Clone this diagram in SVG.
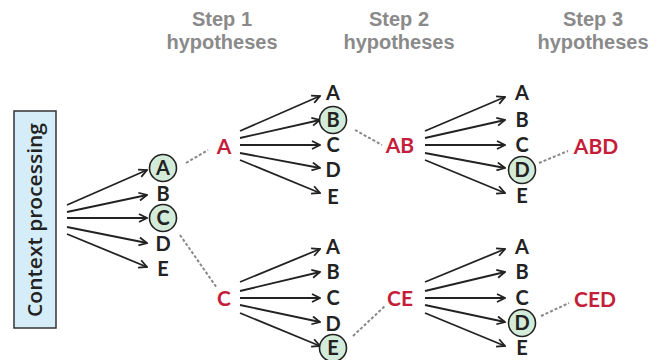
<svg xmlns="http://www.w3.org/2000/svg" width="667" height="360" viewBox="0 0 667 360">
<style>
.hdr{font-family:"Liberation Sans",Arial,sans-serif;font-weight:700;font-size:20px;fill:#8a8a8a;text-anchor:middle}
.tok{font-family:Lato,"Open Sans",sans-serif;font-weight:700;font-size:20px;fill:#222;text-anchor:middle}
.ctx{font-family:"Open Sans",Lato,sans-serif;font-weight:600;font-size:19.5px;fill:#222;text-anchor:middle}
.hyp{font-family:Lato,"Open Sans",sans-serif;font-weight:700;font-size:21px;fill:#c41e3a;text-anchor:middle}
.sel{fill:#d3ebd9;stroke:#222;stroke-width:1.6}
.arr{stroke:#222;stroke-width:1.8;fill:none;marker-end:url(#ah)}
.dash{stroke:#888;stroke-width:2;stroke-dasharray:3 2;fill:none}
</style>
<defs>
<marker id="ah" viewBox="0 0 10 10" refX="9" refY="5" markerWidth="10" markerHeight="10" markerUnits="userSpaceOnUse" orient="auto">
<path d="M1,1 L9,5 L1,9" fill="none" stroke="#222" stroke-width="1.8"/>
</marker>
</defs>
<g id="headers">
<text class="hdr" x="222" y="26">Step 1</text><text class="hdr" x="222" y="49">hypotheses</text>
<text class="hdr" x="399" y="26">Step 2</text><text class="hdr" x="399" y="49">hypotheses</text>
<text class="hdr" x="593" y="26">Step 3</text><text class="hdr" x="593" y="49">hypotheses</text>
</g>
<g id="context">
<rect x="14" y="111" width="42" height="217" fill="#d5edf8" stroke="#333" stroke-width="1.5"/>
<text class="ctx" transform="translate(42,220) rotate(-90)" x="0" y="0" textLength="194" lengthAdjust="spacingAndGlyphs">Context processing</text>
</g>
<g id="connectors">
<line class="arr" x1="67" y1="205" x2="147" y2="170"/>
<line class="arr" x1="67" y1="212" x2="147" y2="195"/>
<line class="arr" x1="67" y1="218" x2="147" y2="218"/>
<line class="arr" x1="67" y1="227" x2="147" y2="243"/>
<line class="arr" x1="67" y1="234" x2="147" y2="267"/>
<line class="arr" x1="240" y1="131" x2="320" y2="96"/>
<line class="arr" x1="240" y1="138" x2="320" y2="120"/>
<line class="arr" x1="240" y1="145" x2="320" y2="145"/>
<line class="arr" x1="240" y1="153" x2="320" y2="168"/>
<line class="arr" x1="240" y1="160" x2="320" y2="193"/>
<line class="arr" x1="425" y1="131" x2="505" y2="97"/>
<line class="arr" x1="425" y1="138" x2="505" y2="120"/>
<line class="arr" x1="425" y1="145" x2="505" y2="145"/>
<line class="arr" x1="425" y1="153" x2="505" y2="168"/>
<line class="arr" x1="425" y1="160" x2="505" y2="193"/>
<line class="arr" x1="240" y1="282" x2="320" y2="249"/>
<line class="arr" x1="240" y1="291" x2="320" y2="272"/>
<line class="arr" x1="240" y1="298" x2="320" y2="298"/>
<line class="arr" x1="240" y1="305" x2="320" y2="322"/>
<line class="arr" x1="240" y1="313" x2="320" y2="346"/>
<line class="arr" x1="425" y1="282" x2="505" y2="249"/>
<line class="arr" x1="425" y1="291" x2="505" y2="272"/>
<line class="arr" x1="425" y1="298" x2="505" y2="298"/>
<line class="arr" x1="425" y1="305" x2="505" y2="322"/>
<line class="arr" x1="425" y1="313" x2="505" y2="346"/>
<line class="dash" x1="186" y1="163" x2="208" y2="150"/>
<line class="dash" x1="180" y1="235" x2="217" y2="288"/>
<line class="dash" x1="355" y1="130" x2="382" y2="145"/>
<line class="dash" x1="353" y1="336" x2="385" y2="306"/>
<line class="dash" x1="539" y1="163" x2="568" y2="151"/>
<line class="dash" x1="541" y1="316" x2="569" y2="303"/>
</g>
<g id="s1-A"><circle class="sel" cx="163" cy="168" r="13.5"/><text class="tok" x="163" y="175">A</text></g>
<g id="s1-B"><text class="tok" x="163" y="201">B</text></g>
<g id="s1-C"><circle class="sel" cx="163" cy="218" r="13.5"/><text class="tok" x="163" y="225">C</text></g>
<g id="s1-D"><text class="tok" x="163" y="251">D</text></g>
<g id="s1-E"><text class="tok" x="163" y="275.5">E</text></g>
<g id="hyp-A"><text class="hyp" x="224" y="153.5">A</text></g>
<g id="hyp-C"><text class="hyp" x="224" y="305.5">C</text></g>
<g id="a-A"><text class="tok" x="333" y="100">A</text></g>
<g id="a-B"><circle class="sel" cx="333" cy="120" r="13.5"/><text class="tok" x="333" y="127">B</text></g>
<g id="a-C"><text class="tok" x="333" y="152">C</text></g>
<g id="a-D"><text class="tok" x="333" y="177">D</text></g>
<g id="a-E"><text class="tok" x="333" y="203.5">E</text></g>
<g id="c-A"><text class="tok" x="333" y="254">A</text></g>
<g id="c-B"><text class="tok" x="333" y="279">B</text></g>
<g id="c-C"><text class="tok" x="333" y="305">C</text></g>
<g id="c-D"><text class="tok" x="333" y="331">D</text></g>
<g id="c-E"><circle class="sel" cx="333" cy="348" r="13.5"/><text class="tok" x="333" y="355">E</text></g>
<g id="hyp-AB"><text class="hyp" x="400" y="152.5">AB</text></g>
<g id="hyp-CE"><text class="hyp" x="400" y="305.5">CE</text></g>
<g id="ab-A"><text class="tok" x="522" y="100">A</text></g>
<g id="ab-B"><text class="tok" x="522" y="127">B</text></g>
<g id="ab-C"><text class="tok" x="522" y="152">C</text></g>
<g id="ab-D"><circle class="sel" cx="522" cy="170" r="13.5"/><text class="tok" x="522" y="177">D</text></g>
<g id="ab-E"><text class="tok" x="522" y="203">E</text></g>
<g id="ce-A"><text class="tok" x="522" y="254">A</text></g>
<g id="ce-B"><text class="tok" x="522" y="279">B</text></g>
<g id="ce-C"><text class="tok" x="522" y="305">C</text></g>
<g id="ce-D"><circle class="sel" cx="522" cy="323" r="13.5"/><text class="tok" x="522" y="330">D</text></g>
<g id="ce-E"><text class="tok" x="522" y="355">E</text></g>
<g id="hyp-ABD"><text class="hyp" x="596" y="153.5">ABD</text></g>
<g id="hyp-CED"><text class="hyp" x="595" y="306.5">CED</text></g>
</svg>
